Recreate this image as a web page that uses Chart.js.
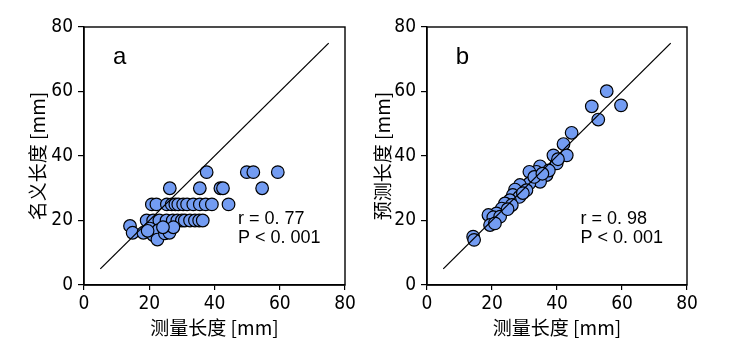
<!DOCTYPE html>
<html>
<head>
<meta charset="utf-8">
<script src="https://cdn.jsdelivr.net/npm/chart.js@4.4.1/dist/chart.umd.min.js"></script>
<style>
  html, body { margin: 0; padding: 0; background: #fff; }
  body { width: 741px; height: 351px; position: relative; overflow: hidden; }
  .panel { position: absolute; top: 0; height: 351px; }
  #wrapA { left: 0; width: 370px; }
  #wrapB { left: 370px; width: 371px; }
</style>
</head>
<body>
<div class="panel" id="wrapA"><canvas id="chartA"></canvas></div>
<div class="panel" id="wrapB"><canvas id="chartB"></canvas></div>
<script>
// panel a: measured length vs nominal length
const measuredA = [37.6, 49.9, 51.9, 59.4,
  26.3, 35.5, 41.8, 42.6, 54.6,
  20.8, 22.2, 25.4, 26.9, 28.0, 28.9, 30.4, 31.6, 33.5, 35.5, 37.3, 39.2, 44.3,
  19.2, 21.2, 23.1, 25.3, 27.2, 28.6, 30.0, 30.9, 32.5, 34.0, 35.3, 36.4,
  14.1, 14.9, 18.2, 20.2, 21.2, 22.8, 22.5, 24.8, 26.2, 27.4, 24.2, 19.5];
const nominalA = [35, 35, 35, 35,
  30, 30, 30, 30, 30,
  25, 25, 25, 25, 25, 25, 25, 25, 25, 25, 25, 25, 25,
  20, 20, 20, 20, 20, 20, 20, 20, 20, 20, 20, 20,
  18.3, 16.2, 16.2, 17.5, 15.5, 17.0, 14.1, 16.0, 16.2, 17.9, 17.9, 16.8];

// panel b: measured length vs predicted length
const measuredB = [55.3, 50.7, 59.7, 52.7, 44.5, 42.0, 43.0, 38.9, 39.9, 40.3,
  34.8, 33.7, 31.5, 36.8, 37.5, 32.7, 34.8, 31.5, 28.6, 27.1,
  30.6, 26.4, 28.4, 25.5, 24.0, 26.1, 23.0, 21.4, 18.9, 20.4,
  22.5, 19.4, 20.9, 14.2, 14.5, 29.5, 33.0, 35.5, 24.8];
const predictedB = [60.1, 55.4, 55.7, 51.3, 47.2, 43.7, 40.2, 40.2, 37.7, 39.0,
  36.8, 35.1, 35.1, 34.1, 35.5, 32.5, 32.0, 31.5, 31.0, 29.6,
  29.4, 27.9, 27.3, 26.3, 25.3, 24.8, 23.7, 22.2, 21.7, 21.0,
  21.2, 18.6, 19.1, 15.0, 14.0, 28.5, 33.5, 34.5, 23.5];

const tickValues = [0, 20, 40, 60, 80];
const refLine = [{ x: 5, y: 5 }, { x: 75, y: 75 }];

const pointColor = '#739cf2';
const tickFont = { family: "'Liberation Sans Narrow', 'DejaVu Sans Condensed', 'Liberation Sans', sans-serif", style: 'condensed', size: 19 };
const titleFont = { family: "'Noto Sans CJK SC', sans-serif", size: 19 };

const framePlugin = {
  id: 'frame',
  afterDraw(chart, args, opts) {
    const { ctx, chartArea: a, scales } = chart;
    ctx.save();
    ctx.strokeStyle = '#000';
    ctx.lineWidth = 1.4;
    ctx.strokeRect(a.left, a.top, a.right - a.left, a.bottom - a.top);
    ctx.fillStyle = '#000';
    ctx.textBaseline = 'middle';
    ctx.textAlign = 'center';
    ctx.font = "24px 'Liberation Sans', Arial, sans-serif";
    ctx.fillText(opts.letter, scales.x.getPixelForValue(10.9), scales.y.getPixelForValue(70.5));
    ctx.textAlign = 'left';
    ctx.font = "18px 'Liberation Sans', Arial, sans-serif";
    const tx = scales.x.getPixelForValue(47.2);
    ctx.fillText(opts.rText, tx, scales.y.getPixelForValue(20.6));
    ctx.fillText('P < 0. 001', tx, scales.y.getPixelForValue(14.6));
    ctx.restore();
  }
};

function makeChart(id, xs, ys, yTitle, axisW, pad, yTitlePad, letter, rText) {
  const pts = xs.map((x, i) => ({ x: x, y: ys[i] }));
  return new Chart(document.getElementById(id).getContext('2d'), {
    type: 'scatter',
    data: {
      datasets: [
        { type: 'line', data: refLine, borderColor: '#000', borderWidth: 1.3, pointRadius: 0, order: 0 },
        { data: pts, backgroundColor: pointColor, borderColor: '#000', borderWidth: 1.2, pointRadius: 6.3, order: 1 }
      ]
    },
    options: {
      responsive: true,
      maintainAspectRatio: false,
      animation: false,
      layout: { padding: pad },
      plugins: {
        legend: { display: false },
        tooltip: { enabled: false },
        frame: { letter: letter, rText: rText }
      },
      scales: {
        x: {
          type: 'linear', min: 0, max: 80,
          afterBuildTicks: s => { s.ticks = tickValues.map(v => ({ value: v })); },
          afterFit: s => { s.height = 66; },
          grid: { drawOnChartArea: false, drawTicks: true, tickLength: 5, color: '#000', lineWidth: 1.2 },
          border: { display: true, color: '#000', width: 1.4 },
          ticks: { color: '#000', font: tickFont, padding: 3, maxRotation: 0 },
          title: { display: true, text: '测量长度 [mm]', color: '#000', font: titleFont, padding: { top: 0, bottom: 12 } }
        },
        y: {
          type: 'linear', min: 0, max: 80,
          afterBuildTicks: s => { s.ticks = tickValues.map(v => ({ value: v })); },
          afterFit: s => { s.width = axisW; },
          grid: { drawOnChartArea: false, drawTicks: true, tickLength: 6, color: '#000', lineWidth: 1.2 },
          border: { display: true, color: '#000', width: 1.4 },
          ticks: { color: '#000', font: tickFont, padding: 5 },
          title: { display: true, text: yTitle, color: '#000', font: titleFont, padding: { top: yTitlePad, bottom: 0 } }
        }
      }
    },
    plugins: [framePlugin]
  });
}

makeChart('chartA', measuredA, nominalA, '名义长度 [mm]', 84, { left: 0, top: 27, right: 25, bottom: 0 }, 26, 'a', 'r = 0. 77');
makeChart('chartB', measuredB, predictedB, '预测长度 [mm]', 57, { left: 0, top: 27, right: 54, bottom: 0 }, 1, 'b', 'r = 0. 98');
</script>
</body>
</html>
